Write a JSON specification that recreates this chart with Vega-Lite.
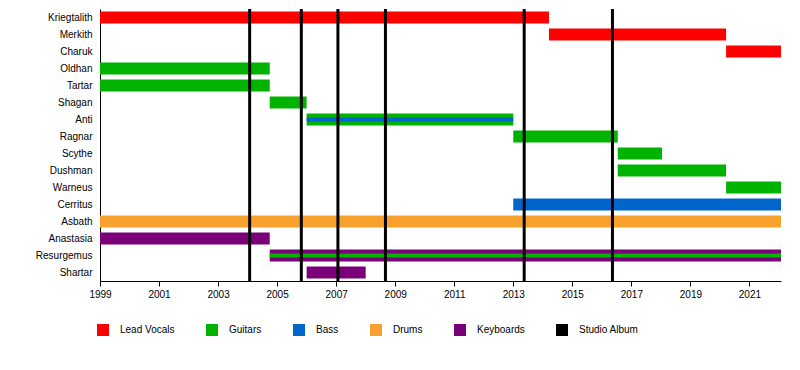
{
  "$schema": "https://vega.github.io/schema/vega-lite/v6.json",
  "width": 681,
  "height": 272,
  "autosize": {"type": "none"},
  "padding": {"left": 100, "top": 9, "right": 19, "bottom": 89},
  "background": "white",
  "config": {
    "view": {"stroke": null},
    "font": "Liberation Sans",
    "axis": {"labelFont": "Liberation Sans", "labelFontSize": 10, "labelColor": "#000000", "domainColor": "#000000", "tickColor": "#000000", "grid": false, "title": null},
    "legend": {"labelFont": "Liberation Sans", "labelFontSize": 10, "labelColor": "#000000"}
  },
  "datasets": {
    "bars": [
      {"member": "Kriegtalith", "role": "Lead Vocals", "start": 1999, "end": 2014.21, "kind": "main"},
      {"member": "Merkith", "role": "Lead Vocals", "start": 2014.21, "end": 2020.21, "kind": "main"},
      {"member": "Charuk", "role": "Lead Vocals", "start": 2020.21, "end": 2022.07, "kind": "main"},
      {"member": "Oldhan", "role": "Guitars", "start": 1999, "end": 2004.75, "kind": "main"},
      {"member": "Tartar", "role": "Guitars", "start": 1999, "end": 2004.75, "kind": "main"},
      {"member": "Shagan", "role": "Guitars", "start": 2004.75, "end": 2006.0, "kind": "main"},
      {"member": "Anti", "role": "Guitars", "start": 2006.0, "end": 2013.0, "kind": "main"},
      {"member": "Anti", "role": "Bass", "start": 2006.0, "end": 2013.0, "kind": "inner"},
      {"member": "Ragnar", "role": "Guitars", "start": 2013.0, "end": 2016.54, "kind": "main"},
      {"member": "Scythe", "role": "Guitars", "start": 2016.54, "end": 2018.04, "kind": "main"},
      {"member": "Dushman", "role": "Guitars", "start": 2016.54, "end": 2020.21, "kind": "main"},
      {"member": "Warneus", "role": "Guitars", "start": 2020.21, "end": 2022.07, "kind": "main"},
      {"member": "Cerritus", "role": "Bass", "start": 2013.0, "end": 2022.07, "kind": "main"},
      {"member": "Asbath", "role": "Drums", "start": 1999, "end": 2022.07, "kind": "main"},
      {"member": "Anastasia", "role": "Keyboards", "start": 1999, "end": 2004.75, "kind": "main"},
      {"member": "Resurgemus", "role": "Keyboards", "start": 2004.75, "end": 2022.07, "kind": "main"},
      {"member": "Resurgemus", "role": "Guitars", "start": 2004.75, "end": 2022.07, "kind": "inner"},
      {"member": "Shartar", "role": "Keyboards", "start": 2006.0, "end": 2008.0, "kind": "main"}
    ],
    "albums": [
      {"year": 2004.07, "type": "Studio Album"},
      {"year": 2005.82, "type": "Studio Album"},
      {"year": 2007.06, "type": "Studio Album"},
      {"year": 2008.67, "type": "Studio Album"},
      {"year": 2013.37, "type": "Studio Album"},
      {"year": 2016.36, "type": "Studio Album"}
    ]
  },
  "layer": [
    {
      "data": {"name": "bars"},
      "transform": [{"filter": "datum.kind === 'main'"}],
      "mark": {"type": "bar", "size": 12},
      "encoding": {
        "y": {"field": "member", "type": "nominal", "sort": ["Kriegtalith", "Merkith", "Charuk", "Oldhan", "Tartar", "Shagan", "Anti", "Ragnar", "Scythe", "Dushman", "Warneus", "Cerritus", "Asbath", "Anastasia", "Resurgemus", "Shartar"], "axis": {"ticks": false, "labelPadding": 8, "domainWidth": 1}},
        "x": {"field": "start", "type": "quantitative", "scale": {"domain": [1999, 2022.07], "nice": false, "zero": false}, "axis": {"orient": "bottom", "values": [1999, 2000, 2001, 2002, 2003, 2004, 2005, 2006, 2007, 2008, 2009, 2010, 2011, 2012, 2013, 2014, 2015, 2016, 2017, 2018, 2019, 2020, 2021, 2022], "labelExpr": "datum.value % 2 == 1 ? datum.label : ''", "format": "d", "tickSize": {"condition": {"test": "datum.value % 2 == 1", "value": 5}, "value": 3}, "labelPadding": 3, "labelFlush": false}},
        "x2": {"field": "end"},
        "color": {"field": "role", "type": "nominal", "scale": {"domain": ["Lead Vocals", "Guitars", "Bass", "Drums", "Keyboards", "Studio Album"], "range": ["#ff0000", "#00b300", "#0066cc", "#f9a12f", "#7a007a", "#000000"]}, "legend": {"title": null, "orient": "none", "legendX": -3, "legendY": 315, "direction": "horizontal", "columns": 6, "columnPadding": 31, "symbolType": "square", "symbolSize": 144, "symbolStrokeWidth": 0, "labelOffset": 11}}
      }
    },
    {
      "data": {"name": "bars"},
      "transform": [{"filter": "datum.kind === 'inner'"}],
      "mark": {"type": "bar", "size": 4},
      "encoding": {
        "y": {"field": "member", "type": "nominal", "sort": ["Kriegtalith", "Merkith", "Charuk", "Oldhan", "Tartar", "Shagan", "Anti", "Ragnar", "Scythe", "Dushman", "Warneus", "Cerritus", "Asbath", "Anastasia", "Resurgemus", "Shartar"]},
        "x": {"field": "start", "type": "quantitative"},
        "x2": {"field": "end"},
        "color": {"field": "role", "type": "nominal"}
      }
    },
    {
      "data": {"name": "albums"},
      "mark": {"type": "rule", "strokeWidth": 3},
      "encoding": {
        "x": {"field": "year", "type": "quantitative"},
        "color": {"field": "type", "type": "nominal"}
      }
    }
  ]
}
